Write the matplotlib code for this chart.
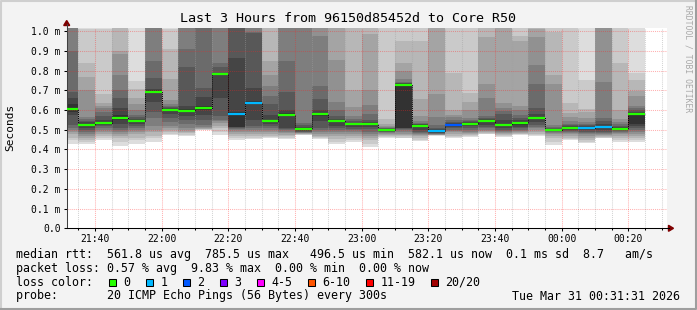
import numpy as np
import matplotlib
matplotlib.use('Agg')
import matplotlib.pyplot as plt
from matplotlib.patches import Rectangle, Polygon
from matplotlib.lines import Line2D

plt.rcParams['font.family'] = ['DejaVu Sans Mono']

W, H = 697, 310

# 20 sorted pings per 5-minute step, in ms (values above 1.0 are off the chart)
pings = [
    [0.43, 0.45, 0.46, 0.48, 0.49, 0.50, 0.51, 0.525, 0.575, 0.59, 0.63, 0.66, 0.69, 0.90, 1.1, 1.1, 1.1, 1.1, 1.1, 1.1],
    [0.43, 0.44, 0.45, 0.46, 0.47, 0.48, 0.49, 0.50, 0.51, 0.52, 0.53, 0.54, 0.545, 0.555, 0.565, 0.70, 0.77, 0.84, 1.01, 1.1],
    [0.45, 0.46, 0.47, 0.48, 0.49, 0.50, 0.51, 0.52, 0.525, 0.53, 0.54, 0.55, 0.57, 0.59, 0.61, 0.62, 0.635, 0.68, 1.01, 1.1],
    [0.42, 0.44, 0.46, 0.47, 0.48, 0.49, 0.50, 0.51, 0.53, 0.55, 0.575, 0.61, 0.66, 0.70, 0.78, 0.885, 0.90, 1.1, 1.1, 1.1],
    [0.43, 0.45, 0.46, 0.48, 0.49, 0.50, 0.51, 0.52, 0.53, 0.54, 0.55, 0.555, 0.565, 0.575, 0.60, 0.63, 0.66, 0.705, 0.745, 1.1],
    [0.44, 0.46, 0.47, 0.49, 0.50, 0.52, 0.56, 0.59, 0.64, 0.685, 0.70, 0.705, 0.765, 0.85, 1.1, 1.1, 1.1, 1.1, 1.1, 1.1],
    [0.475, 0.48, 0.49, 0.50, 0.51, 0.52, 0.54, 0.56, 0.58, 0.60, 0.605, 0.61, 0.615, 0.62, 0.63, 0.65, 0.76, 0.91, 1.01, 1.1],
    [0.468, 0.475, 0.485, 0.49, 0.50, 0.51, 0.53, 0.55, 0.57, 0.59, 0.605, 0.62, 0.82, 0.91, 1.1, 1.1, 1.1, 1.1, 1.1, 1.1],
    [0.499, 0.50, 0.503, 0.505, 0.51, 0.515, 0.525, 0.55, 0.575, 0.60, 0.62, 0.665, 0.71, 1.1, 1.1, 1.1, 1.1, 1.1, 1.1, 1.1],
    [0.475, 0.49, 0.51, 0.52, 0.535, 0.545, 0.55, 0.57, 0.66, 0.78, 0.787, 0.79, 0.82, 0.84, 1.1, 1.1, 1.1, 1.1, 1.1, 1.1],
    [0.448, 0.46, 0.47, 0.48, 0.49, 0.50, 0.505, 0.51, 0.512, 0.515, 0.59, 0.865, 1.1, 1.1, 1.1, 1.1, 1.1, 1.1, 1.1, 1.1],
    [0.455, 0.46, 0.47, 0.48, 0.49, 0.50, 0.51, 0.52, 0.55, 0.63, 0.645, 0.71, 0.99, 0.995, 1.1, 1.1, 1.1, 1.1, 1.1, 1.1],
    [0.457, 0.465, 0.47, 0.48, 0.49, 0.50, 0.51, 0.52, 0.53, 0.54, 0.55, 0.575, 0.63, 0.67, 0.72, 0.78, 0.85, 1.1, 1.1, 1.1],
    [0.452, 0.46, 0.47, 0.475, 0.485, 0.49, 0.50, 0.505, 0.51, 0.57, 0.585, 0.60, 0.69, 0.85, 1.1, 1.1, 1.1, 1.1, 1.1, 1.1],
    [0.474, 0.476, 0.478, 0.48, 0.483, 0.485, 0.487, 0.49, 0.495, 0.50, 0.51, 0.515, 0.525, 0.535, 1.1, 1.1, 1.1, 1.1, 1.1, 1.1],
    [0.452, 0.46, 0.465, 0.47, 0.48, 0.49, 0.50, 0.51, 0.545, 0.57, 0.585, 0.60, 0.655, 0.72, 0.975, 1.1, 1.1, 1.1, 1.1, 1.1],
    [0.43, 0.44, 0.455, 0.47, 0.48, 0.49, 0.50, 0.51, 0.52, 0.54, 0.55, 0.555, 0.57, 0.60, 0.64, 0.855, 1.1, 1.1, 1.1, 1.1],
    [0.44, 0.45, 0.46, 0.47, 0.48, 0.49, 0.50, 0.505, 0.515, 0.525, 0.532, 0.535, 0.545, 0.555, 0.57, 0.615, 0.70, 1.1, 1.1, 1.1],
    [0.414, 0.43, 0.45, 0.46, 0.47, 0.48, 0.49, 0.505, 0.515, 0.525, 0.535, 0.54, 0.55, 0.58, 0.625, 0.70, 0.985, 1.1, 1.1, 1.1],
    [0.457, 0.465, 0.47, 0.475, 0.48, 0.484, 0.487, 0.49, 0.495, 0.498, 0.502, 0.505, 0.507, 0.51, 0.515, 0.52, 0.53, 0.555, 1.1, 1.1],
    [0.457, 0.46, 0.47, 0.475, 0.48, 0.49, 0.50, 0.505, 0.508, 0.51, 0.733, 0.735, 0.737, 0.74, 0.76, 0.80, 0.84, 0.95, 1.1, 1.1],
    [0.445, 0.45, 0.46, 0.47, 0.475, 0.48, 0.485, 0.49, 0.50, 0.515, 0.524, 0.527, 0.53, 0.535, 0.545, 0.57, 0.655, 0.95, 1.1, 1.1],
    [0.47, 0.471, 0.472, 0.474, 0.476, 0.478, 0.48, 0.483, 0.485, 0.49, 0.50, 0.505, 0.51, 0.525, 0.565, 0.68, 1.1, 1.1, 1.1, 1.1],
    [0.457, 0.465, 0.47, 0.48, 0.49, 0.495, 0.50, 0.51, 0.515, 0.52, 0.53, 0.535, 0.54, 0.55, 0.565, 0.575, 0.60, 0.79, 1.1, 1.1],
    [0.465, 0.47, 0.475, 0.48, 0.485, 0.49, 0.50, 0.51, 0.52, 0.525, 0.535, 0.54, 0.545, 0.55, 0.56, 0.60, 0.64, 0.685, 1.1, 1.1],
    [0.478, 0.48, 0.485, 0.49, 0.495, 0.50, 0.51, 0.515, 0.525, 0.54, 0.55, 0.555, 0.56, 0.57, 0.66, 0.73, 0.97, 1.1, 1.1, 1.1],
    [0.465, 0.47, 0.475, 0.48, 0.485, 0.49, 0.495, 0.50, 0.51, 0.52, 0.53, 0.55, 0.58, 0.595, 0.61, 0.635, 1.1, 1.1, 1.1, 1.1],
    [0.474, 0.478, 0.48, 0.485, 0.49, 0.495, 0.50, 0.51, 0.515, 0.525, 0.54, 0.55, 0.56, 0.575, 0.60, 0.62, 0.95, 0.975, 1.1, 1.1],
    [0.47, 0.475, 0.48, 0.49, 0.50, 0.51, 0.515, 0.525, 0.54, 0.555, 0.565, 0.58, 0.61, 0.73, 0.83, 0.97, 1.01, 1.1, 1.1, 1.1],
    [0.423, 0.44, 0.46, 0.47, 0.48, 0.485, 0.49, 0.493, 0.495, 0.497, 0.50, 0.505, 0.51, 0.515, 0.525, 0.73, 0.78, 0.995, 1.1, 1.1],
    [0.448, 0.455, 0.46, 0.47, 0.48, 0.485, 0.49, 0.495, 0.50, 0.505, 0.515, 0.52, 0.525, 0.53, 0.545, 0.565, 0.585, 0.635, 1.1, 1.1],
    [0.431, 0.44, 0.45, 0.46, 0.47, 0.48, 0.485, 0.49, 0.50, 0.505, 0.515, 0.52, 0.525, 0.53, 0.54, 0.56, 0.59, 0.605, 0.755, 1.1],
    [0.457, 0.46, 0.465, 0.47, 0.475, 0.48, 0.485, 0.49, 0.50, 0.51, 0.52, 0.53, 0.545, 0.56, 0.74, 1.1, 1.1, 1.1, 1.1, 1.1],
    [0.44, 0.45, 0.46, 0.47, 0.48, 0.485, 0.49, 0.495, 0.50, 0.505, 0.51, 0.515, 0.52, 0.53, 0.54, 0.555, 0.60, 0.84, 1.1, 1.1],
    [0.44, 0.45, 0.46, 0.47, 0.48, 0.49, 0.50, 0.51, 0.52, 0.53, 0.585, 0.59, 0.60, 0.61, 0.62, 0.67, 0.695, 0.755, 0.79, 1.1],
]

median = [0.607, 0.526, 0.534, 0.561, 0.546, 0.693, 0.602, 0.597, 0.611, 0.785,
          0.582, 0.638, 0.546, 0.577, 0.506, 0.580, 0.546, 0.529, 0.531, 0.500,
          0.729, 0.521, 0.496, 0.526, 0.531, 0.546, 0.526, 0.534, 0.561, 0.499,
          0.511, 0.511, 0.516, 0.506, 0.582]

# lost pings per step
loss = [0, 0, 0, 0, 0, 0, 0, 0, 0, 0,
        1, 1, 0, 0, 0, 0, 0, 0, 0, 0,
        0, 0, 1, 2, 0, 0, 0, 0, 0, 0,
        0, 1, 1, 0, 0]

# minutes after 21:00, graph runs 21:31:31 -> 00:31:31
start = 31 + 31 / 60
bar_left = [start] + list(range(35, 205, 5))
bar_right = list(range(35, 210, 5))

tick_pos = [40, 60, 80, 100, 120, 140, 160, 180, 200]
tick_lab = ['21:40', '22:00', '22:20', '22:40', '23:00', '23:20', '23:40', '00:00', '00:20']

loss_keys = ['0', '1', '2', '3', '4-5', '6-10', '11-19', '20/20']
loss_cols = ['#26ff00', '#00b8ff', '#0059ff', '#7e00ff', '#ff00ff', '#ff5500', '#ff0000', '#a10000']

smoke = ['#dddddd', '#cacaca', '#b7b7b7', '#a4a4a4', '#919191',
         '#7e7e7e', '#6b6b6b', '#585858', '#454545', '#323232']


def fx(x):
    return x / W


def fy(y):
    return 1 - y / H


fig = plt.figure(figsize=(W / 100, H / 100), dpi=100, facecolor='#f3f3f3')
ax = fig.add_axes([fx(66.7), fy(228.3), 600 / W, (228.3 - 27.7) / H])
ax.set_facecolor('white')
ax.set_xlim(start, start + 180)
ax.set_ylim(0, 1.018)

P = np.array(pings)
left = np.array(bar_left, dtype=float)
width = np.array(bar_right) - left
for k in range(10):
    ax.bar(left, P[:, 19 - k] - P[:, k], width, bottom=P[:, k], align='edge',
           color=smoke[k], linewidth=0, antialiased=False, zorder=1)

# grid on top of the smoke
for m in range(35, 211, 5):
    if m in tick_pos:
        ax.axvline(m, color='#ff2020', alpha=0.35, lw=0.75, ls=(0, (1, 1)), zorder=2)
    else:
        ax.axvline(m, color='#a0a0a0', alpha=0.45, lw=0.75, ls=(0, (1, 1)), zorder=2)
for v in np.arange(0.1, 1.01, 0.1):
    ax.axhline(v, color='#ff2020', alpha=0.35, lw=0.75, ls=(0, (1, 1)), zorder=2)

# median
ax.step(np.append(left, bar_right[-1]), median + [median[-1]], where='post',
        color='black', lw=0.7, ls=(0, (1, 1)), zorder=3)
for i in range(len(median)):
    ax.hlines(median[i], left[i], bar_right[i], color=loss_cols[loss[i]], lw=1.6, zorder=4)

for s in ['top', 'right']:
    ax.spines[s].set_visible(False)
ax.spines['left'].set_color('#404040')
ax.spines['bottom'].set_color('#000000')
ax.spines['left'].set_linewidth(0.75)
ax.spines['bottom'].set_linewidth(0.75)

yt = np.arange(0, 1.01, 0.1)
ax.set_yticks(yt)
ax.set_yticklabels(['0.0'] + ['%.1f m' % v for v in yt[1:]])
ax.set_xticks(tick_pos)
ax.set_xticklabels(tick_lab)
ax.set_xticks(list(range(35, 211, 5)), minor=True)
ax.tick_params(axis='both', labelsize=7, colors='#000000', length=2.2, width=0.75, pad=2)
ax.tick_params(axis='x', which='minor', length=1.5, width=0.75)

# arrows
fig.add_artist(Line2D([fx(66.7), fx(66.7)], [fy(27.7), fy(24)], color='#404040', lw=0.75,
                      transform=fig.transFigure))
fig.add_artist(Polygon([[fx(63.7), fy(25.5)], [fx(69.7), fy(25.5)], [fx(66.7), fy(20.5)]],
                       closed=True, color='#7f0000', transform=fig.transFigure))
fig.add_artist(Line2D([fx(666.7), fx(669)], [fy(228.3), fy(228.3)], color='black', lw=0.75,
                      transform=fig.transFigure))
fig.add_artist(Polygon([[fx(668.5), fy(225.3)], [fx(668.5), fy(231.3)], [fx(673.5), fy(228.3)]],
                       closed=True, color='#7f0000', transform=fig.transFigure))

# frame
fig.add_artist(Line2D([fx(0.5), fx(0.5), fx(696)], [fy(309), fy(0.5), fy(0.5)], color='#cfcfcf',
                      lw=1.5, transform=fig.transFigure))
fig.add_artist(Line2D([fx(1), fx(696), fx(696)], [fy(309), fy(309), fy(1)], color='#9e9e9e',
                      lw=1.5, transform=fig.transFigure))

fig.text(fx(348), fy(19), 'Last 3 Hours from 96150d85452d to Core R50', ha='center', va='center',
         fontsize=9.6)
fig.text(fx(10), fy(127), 'Seconds', rotation=90, ha='center', va='center', fontsize=8)
fig.text(fx(688), fy(5), 'RRDTOOL / TOBI OETIKER', rotation=-90, ha='center', va='top',
         fontsize=5.8, color='#a8a8a8')

fs = 8.4
fig.text(fx(16), fy(254.3),
         'median rtt:  561.8 us avg  785.5 us max   496.5 us min  582.1 us now  0.1 ms sd  8.7   am/s',
         ha='left', va='center', fontsize=fs)
fig.text(fx(16), fy(268.3), 'packet loss: 0.57 % avg  9.83 % max  0.00 % min  0.00 % now',
         ha='left', va='center', fontsize=fs)
fig.text(fx(16), fy(282.3), 'loss color:', ha='left', va='center', fontsize=fs)
bx = 108.7
for key, col in zip(loss_keys, loss_cols):
    fig.add_artist(Rectangle((fx(bx), fy(286)), 7.3 / W, 7.5 / H, facecolor=col, edgecolor='black',
                             lw=0.75, transform=fig.transFigure))
    fig.text(fx(bx + 14.6), fy(282.3), key, ha='left', va='center', fontsize=fs)
    bx += 30 + 7 * len(key)
fig.text(fx(16), fy(296), 'probe:       20 ICMP Echo Pings (56 Bytes) every 300s',
         ha='left', va='center', fontsize=fs)
fig.text(fx(680), fy(296), 'Tue Mar 31 00:31:31 2026', ha='right', va='center', fontsize=fs)

fig.savefig('out.png', dpi=100, facecolor=fig.get_facecolor())
